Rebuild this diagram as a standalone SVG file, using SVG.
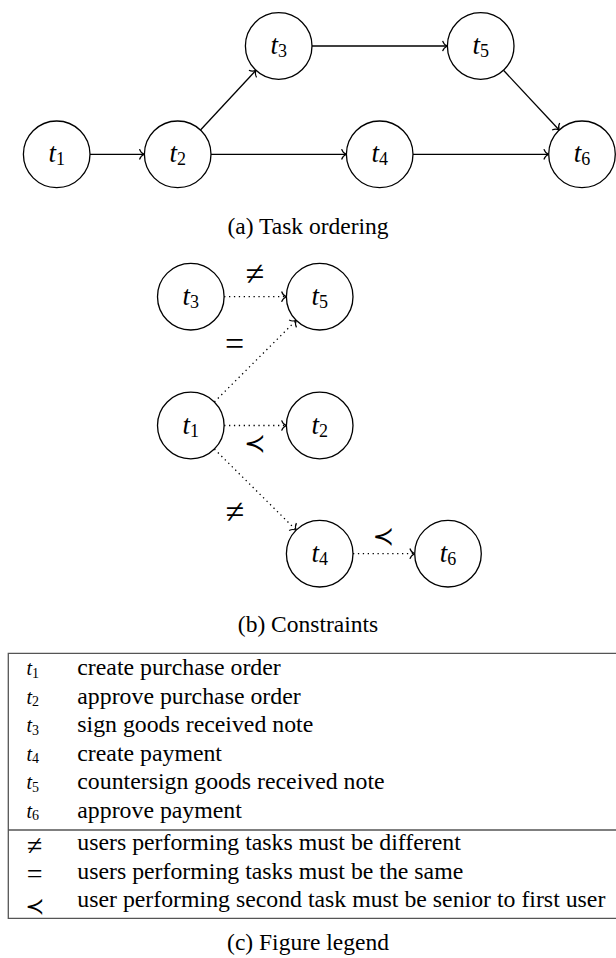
<svg xmlns="http://www.w3.org/2000/svg" width="616" height="958" viewBox="0 0 616 958">
<style>
  .node { fill: #fff; stroke: #000; stroke-width: 1.3; }
  .lbl { font-family: 'Liberation Serif', serif; font-size: 27px; fill: #000; }
  .lbl .v { font-style: italic; }
  .lbl .s { font-size: 18px; }
  .edge { fill: none; stroke: #000; stroke-width: 1.3; }
  .dot { fill: none; stroke: #000; stroke-width: 1.3; stroke-dasharray: 1.3 3.6; }
  .cap { font-family: 'Liberation Serif', serif; font-size: 23.5px; fill: #000; }
  .sym { font-family: 'Liberation Serif', 'DejaVu Sans', serif; font-size: 34px; fill: #000; }
  .prec { font-family: 'DejaVu Sans', sans-serif; font-size: 26px; fill: #000; }
  .lsy2 { font-family: 'Liberation Serif', 'DejaVu Sans', serif; font-size: 28px; fill: #000; }
  .lprec { font-family: 'DejaVu Sans', sans-serif; font-size: 23px; fill: #000; }
  .ltx { font-family: 'Liberation Serif', serif; font-size: 23.8px; fill: #000; }
  .lsym { font-family: 'Liberation Serif', serif; font-size: 20px; fill: #000; }
  .lsym .v { font-style: italic; }
  .lsym .s { font-size: 14px; }
  .rule { fill: none; stroke: #555; stroke-width: 1.3; }
</style>
<defs>
  <marker id="arr" markerUnits="userSpaceOnUse" orient="auto" refX="0" refY="0" markerWidth="20" markerHeight="20" viewBox="-10 -10 20 20" overflow="visible">
    <path d="M-4.8,-5.2 C-4,-2.5 -1.5,-0.6 0,0 C-1.5,0.6 -4,2.5 -4.8,5.2" fill="none" stroke="#000" stroke-width="1.2" stroke-dasharray="none"/>
  </marker>
</defs>

<!-- (a) Task ordering -->
<g id="connectors-a">
  <line class="edge" x1="90" y1="154.3" x2="144.3" y2="154.3" marker-end="url(#arr)"/>
  <line class="edge" x1="200.5" y1="130" x2="256" y2="70.3" marker-end="url(#arr)"/>
  <line class="edge" x1="312" y1="46" x2="447.4" y2="46" marker-end="url(#arr)"/>
  <line class="edge" x1="211" y1="154.3" x2="346.4" y2="154.3" marker-end="url(#arr)"/>
  <line class="edge" x1="413" y1="154.3" x2="548.7" y2="154.3" marker-end="url(#arr)"/>
  <line class="edge" x1="503.5" y1="70.3" x2="559.2" y2="130" marker-end="url(#arr)"/>
</g>
<g id="a-t1"><circle class="node" cx="56.7" cy="154.3" r="33.3"/><text class="lbl" x="56.7" y="162.3" text-anchor="middle"><tspan class="v">t</tspan><tspan class="s" dy="3">1</tspan></text></g>
<g id="a-t2"><circle class="node" cx="177.7" cy="154.3" r="33.3"/><text class="lbl" x="177.7" y="162.3" text-anchor="middle"><tspan class="v">t</tspan><tspan class="s" dy="3">2</tspan></text></g>
<g id="a-t3"><circle class="node" cx="278.7" cy="46" r="33.3"/><text class="lbl" x="278.7" y="54" text-anchor="middle"><tspan class="v">t</tspan><tspan class="s" dy="3">3</tspan></text></g>
<g id="a-t4"><circle class="node" cx="379.7" cy="154.3" r="33.3"/><text class="lbl" x="379.7" y="162.3" text-anchor="middle"><tspan class="v">t</tspan><tspan class="s" dy="3">4</tspan></text></g>
<g id="a-t5"><circle class="node" cx="480.7" cy="46" r="33.3"/><text class="lbl" x="480.7" y="54" text-anchor="middle"><tspan class="v">t</tspan><tspan class="s" dy="3">5</tspan></text></g>
<g id="a-t6"><circle class="node" cx="582" cy="154.3" r="33.3"/><text class="lbl" x="582" y="162.3" text-anchor="middle"><tspan class="v">t</tspan><tspan class="s" dy="3">6</tspan></text></g>
<text class="cap" x="308" y="234" text-anchor="middle">(a)  Task ordering</text>

<!-- (b) Constraints -->
<g id="connectors-b">
  <line class="dot" x1="224.1" y1="296.7" x2="286.4" y2="296.7" marker-end="url(#arr)"/>
  <line class="dot" x1="214.4" y1="401.9" x2="296.2" y2="320.3" marker-end="url(#arr)"/>
  <line class="dot" x1="224.1" y1="425.5" x2="286.4" y2="425.5" marker-end="url(#arr)"/>
  <line class="dot" x1="214.4" y1="449.1" x2="296.2" y2="530.2" marker-end="url(#arr)"/>
  <line class="dot" x1="353" y1="553.7" x2="414.7" y2="553.7" marker-end="url(#arr)"/>
  <text class="sym" x="255" y="285" text-anchor="middle">≠</text>
  <text class="sym" x="234.7" y="354.5" text-anchor="middle">=</text>
  <text class="prec" x="255" y="452" text-anchor="middle">≺</text>
  <text class="sym" x="235" y="523" text-anchor="middle">≠</text>
  <text class="prec" x="383.3" y="545" text-anchor="middle">≺</text>
</g>
<g id="b-t3"><circle class="node" cx="190.8" cy="296.7" r="33.3"/><text class="lbl" x="190.8" y="304.7" text-anchor="middle"><tspan class="v">t</tspan><tspan class="s" dy="3">3</tspan></text></g>
<g id="b-t5"><circle class="node" cx="319.7" cy="296.7" r="33.3"/><text class="lbl" x="319.7" y="304.7" text-anchor="middle"><tspan class="v">t</tspan><tspan class="s" dy="3">5</tspan></text></g>
<g id="b-t1"><circle class="node" cx="190.8" cy="425.5" r="33.3"/><text class="lbl" x="190.8" y="433.5" text-anchor="middle"><tspan class="v">t</tspan><tspan class="s" dy="3">1</tspan></text></g>
<g id="b-t2"><circle class="node" cx="319.7" cy="425.5" r="33.3"/><text class="lbl" x="319.7" y="433.5" text-anchor="middle"><tspan class="v">t</tspan><tspan class="s" dy="3">2</tspan></text></g>
<g id="b-t4"><circle class="node" cx="319.7" cy="553.7" r="33.3"/><text class="lbl" x="319.7" y="561.7" text-anchor="middle"><tspan class="v">t</tspan><tspan class="s" dy="3">4</tspan></text></g>
<g id="b-t6"><circle class="node" cx="448" cy="553.7" r="33.3"/><text class="lbl" x="448" y="561.7" text-anchor="middle"><tspan class="v">t</tspan><tspan class="s" dy="3">6</tspan></text></g>
<text class="cap" x="308" y="632" text-anchor="middle">(b)  Constraints</text>

<!-- (c) Figure legend -->
<g id="legend">
  <path class="rule" d="M616,653.3 H8.3 V918.3 H616 M8.3,830 H616"/>
  <text class="lsym" x="26.5" y="675"><tspan class="v">t</tspan><tspan class="s" dy="2.5">1</tspan></text>
  <text class="ltx" x="77.3" y="675">create purchase order</text>
  <text class="lsym" x="26.5" y="703.5"><tspan class="v">t</tspan><tspan class="s" dy="2.5">2</tspan></text>
  <text class="ltx" x="77.3" y="703.5">approve purchase order</text>
  <text class="lsym" x="26.5" y="732"><tspan class="v">t</tspan><tspan class="s" dy="2.5">3</tspan></text>
  <text class="ltx" x="77.3" y="732">sign goods received note</text>
  <text class="lsym" x="26.5" y="760.5"><tspan class="v">t</tspan><tspan class="s" dy="2.5">4</tspan></text>
  <text class="ltx" x="77.3" y="760.5">create payment</text>
  <text class="lsym" x="26.5" y="789"><tspan class="v">t</tspan><tspan class="s" dy="2.5">5</tspan></text>
  <text class="ltx" x="77.3" y="789">countersign goods received note</text>
  <text class="lsym" x="26.5" y="817.5"><tspan class="v">t</tspan><tspan class="s" dy="2.5">6</tspan></text>
  <text class="ltx" x="77.3" y="817.5">approve payment</text>
  <text class="lsy2" x="34.7" y="854.5" text-anchor="middle">≠</text>
  <text class="ltx" x="77.3" y="850">users performing tasks must be different</text>
  <text class="lsy2" x="34.7" y="883" text-anchor="middle">=</text>
  <text class="ltx" x="77.3" y="878.5">users performing tasks must be the same</text>
  <text class="lprec" x="35" y="914" text-anchor="middle">≺</text>
  <text class="ltx" x="77.3" y="907">user performing second task must be senior to first user</text>
</g>
<text class="cap" x="308" y="950" text-anchor="middle">(c) Figure legend</text>
</svg>
